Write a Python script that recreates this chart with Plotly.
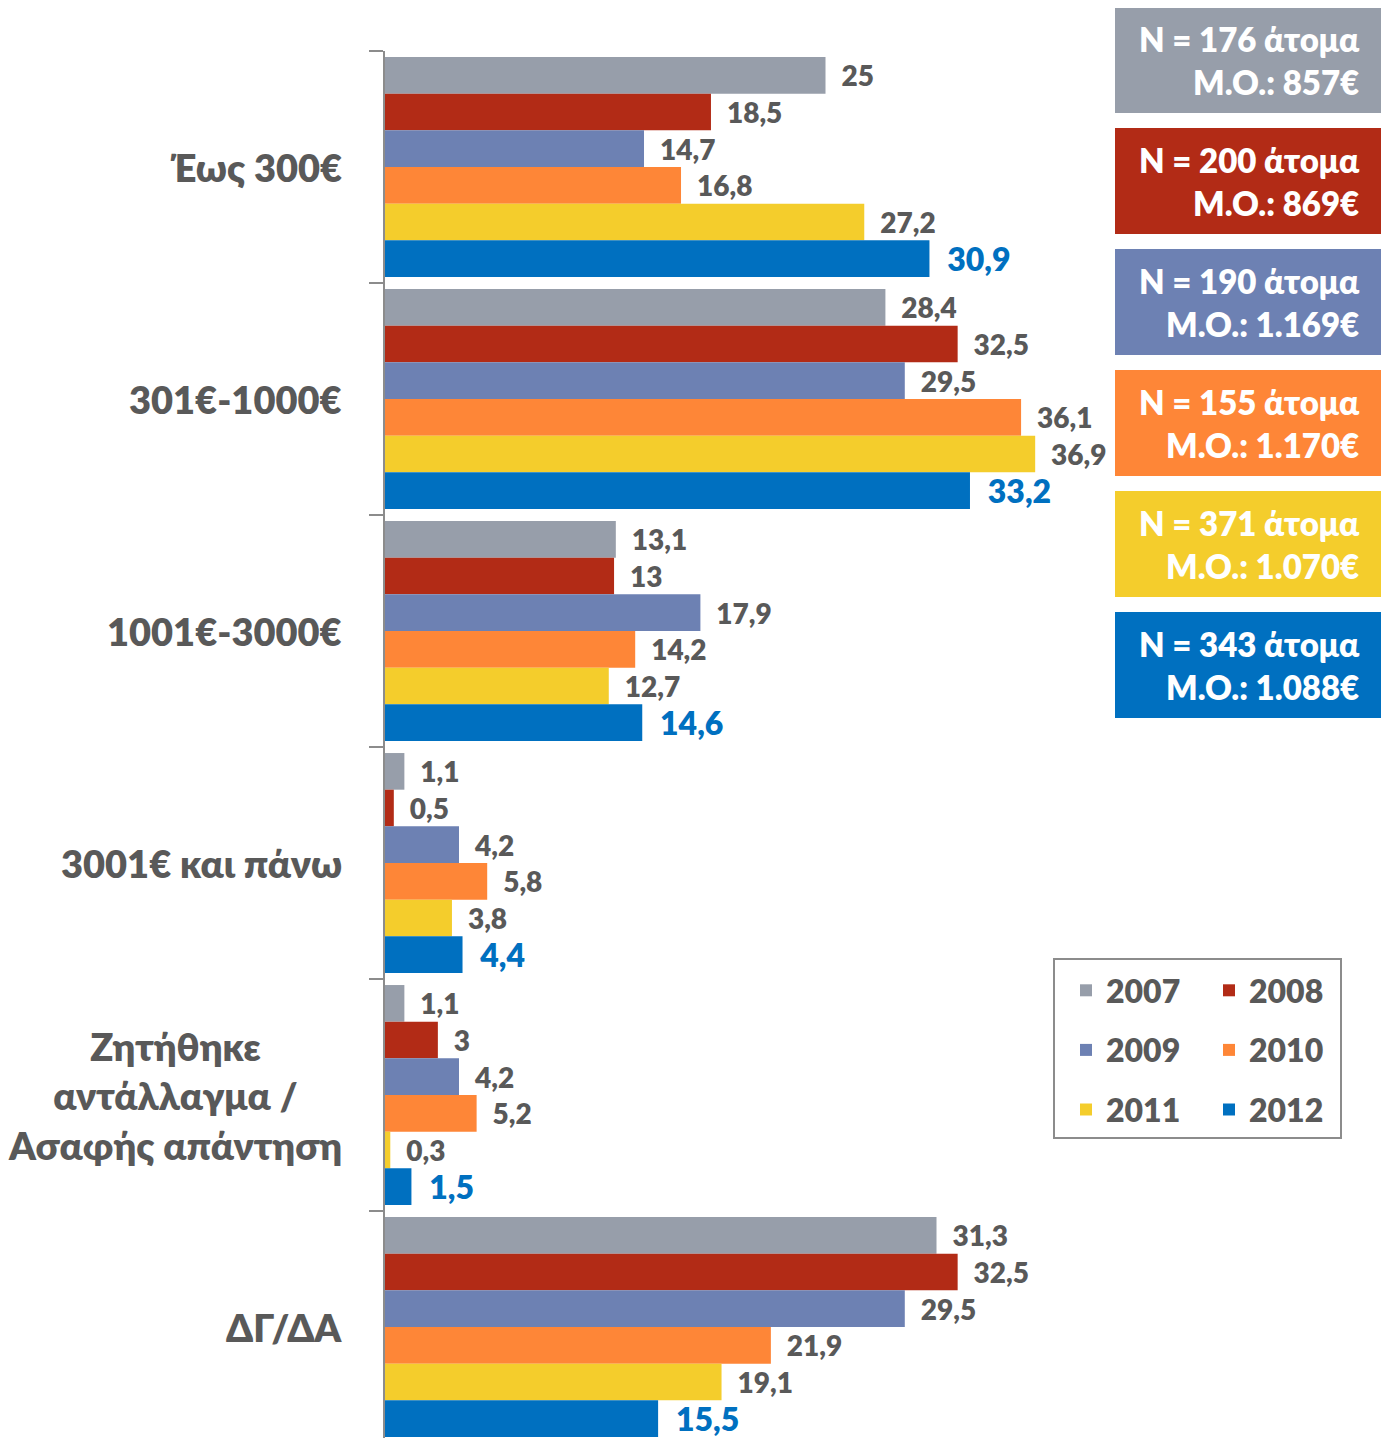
import plotly.graph_objects as go

# page offset (browser body margin)
OFF = 8
W, H = 1389 - OFF, 1438 - OFF
ML, MR, MT, MB = 385 - OFF, 4, 51 - OFF, 0
PW, PH = W - ML - MR, H - MT - MB

categories = ["Έως 300€", "301€-1000€", "1001€-3000€", "3001€ και πάνω",
              "Ζητήθηκε αντάλλαγμα / Ασαφής απάντηση", "ΔΓ/ΔΑ"]
category_labels = ["Έως 300€", "301€-1000€", "1001€-3000€", "3001€ και πάνω",
                   "Ζητήθηκε<br>αντάλλαγμα /<br>Ασαφής απάντηση", "ΔΓ/ΔΑ"]
years = ["2007", "2008", "2009", "2010", "2011", "2012"]
v2007 = [25, 28.4, 13.1, 1.1, 1.1, 31.3]
v2008 = [18.5, 32.5, 13, 0.5, 3, 32.5]
v2009 = [14.7, 29.5, 17.9, 4.2, 4.2, 29.5]
v2010 = [16.8, 36.1, 14.2, 5.8, 5.2, 21.9]
v2011 = [27.2, 36.9, 12.7, 3.8, 0.3, 19.1]
v2012 = [30.9, 33.2, 14.6, 4.4, 1.5, 15.5]
series = [v2007, v2008, v2009, v2010, v2011, v2012]
sample_n = ["176", "200", "190", "155", "371", "343"]
mean_eur = ["857€", "869€", "1.169€", "1.170€", "1.070€", "1.088€"]
colors = ["#979EAA", "#B22B16", "#6D81B3", "#FE8637", "#F4CD2C", "#0070C0"]

FONT = "Lato"
WEIGHT = 800
GRAY = "#595959"
PX_PER_UNIT = 17.62


def px_x(px):
    # screenshot x pixel -> paper fraction
    return (px - OFF - ML) / PW


def px_y(py):
    # screenshot y pixel -> paper fraction
    return (OFF + H - MB - py) / PH


fig = go.Figure()
for i, (yr, vals) in enumerate(zip(years, series)):
    last = i == len(years) - 1
    fig.add_trace(go.Bar(
        x=vals, y=categories, orientation="h", name=yr,
        marker=dict(color=colors[i], line=dict(width=0)),
        texttemplate="\u00a0\u00a0%{x}", textposition="outside",
        textfont=dict(family=FONT, size=32 if last else 28,
                      color="#0070C0" if last else GRAY, weight=WEIGHT),
        constraintext="none", cliponaxis=False,
        legend="legend" if i % 2 == 0 else "legend2",
        legendgroup=yr,
        hoverinfo="x+name",
    ))

annotations = []
for cat, lab in zip(categories, category_labels):
    annotations.append(dict(
        x=px_x(344), xref="paper", y=cat, yref="y", xanchor="right", yanchor="middle",
        text=lab, showarrow=False, align="center",
        font=dict(family=FONT, size=38, color=GRAY, weight=WEIGHT),
    ))

shapes = []
box_top0, box_step, box_h = 7, 121, 106
for i in range(len(years)):
    top = box_top0 + i * box_step
    shapes.append(dict(type="rect", xref="paper", yref="paper",
                       x0=px_x(1115), x1=px_x(1382), y0=px_y(top + box_h), y1=px_y(top),
                       fillcolor=colors[i], line=dict(width=0), layer="above"))
    annotations.append(dict(
        x=px_x(1362), xref="paper", y=px_y(top + box_h / 2), yref="paper",
        xanchor="right", yanchor="middle", align="right", showarrow=False,
        text=f"N = {sample_n[i]} άτομα<br>M.O.: {mean_eur[i]}",
        font=dict(family=FONT, size=33, color="white", weight=WEIGHT),
    ))

# legend frame
shapes.append(dict(type="rect", xref="paper", yref="paper",
                   x0=px_x(1054), x1=px_x(1341), y0=px_y(1138), y1=px_y(959),
                   line=dict(color="#8C8C8C", width=2), fillcolor="rgba(0,0,0,0)"))

leg_common = dict(orientation="v", bgcolor="rgba(0,0,0,0)", borderwidth=0,
                  font=dict(family=FONT, size=32, color=GRAY, weight=WEIGHT),
                  tracegroupgap=15, yanchor="top", xanchor="left",
                  traceorder="grouped", itemclick=False, itemdoubleclick=False)

fig.update_layout(
    width=W, height=H,
    margin=dict(l=ML, r=MR, t=MT, b=MB, pad=0),
    paper_bgcolor="white", plot_bgcolor="white",
    barmode="group", bargap=0.052, bargroupgap=0,
    separators=",.",
    font=dict(family=FONT, color=GRAY),
    showlegend=True,
    legend=dict(x=px_x(1066), y=px_y(963), **leg_common),
    legend2=dict(x=px_x(1209), y=px_y(963), **leg_common),
    xaxis=dict(range=[0, PW / PX_PER_UNIT], showgrid=False, zeroline=False,
               showticklabels=False, ticks="", showline=False, fixedrange=True),
    yaxis=dict(type="category", categoryorder="array", categoryarray=categories,
               range=[-0.5 + PH / 232.0, -0.5], showgrid=False, zeroline=False,
               showticklabels=False, ticks="outside", tickson="boundaries",
               ticklen=14, tickwidth=2, tickcolor="#8C8C8C",
               showline=True, linecolor="#8C8C8C", linewidth=2, fixedrange=True),
    annotations=annotations, shapes=shapes,
)

fig.write_html("out.html")
